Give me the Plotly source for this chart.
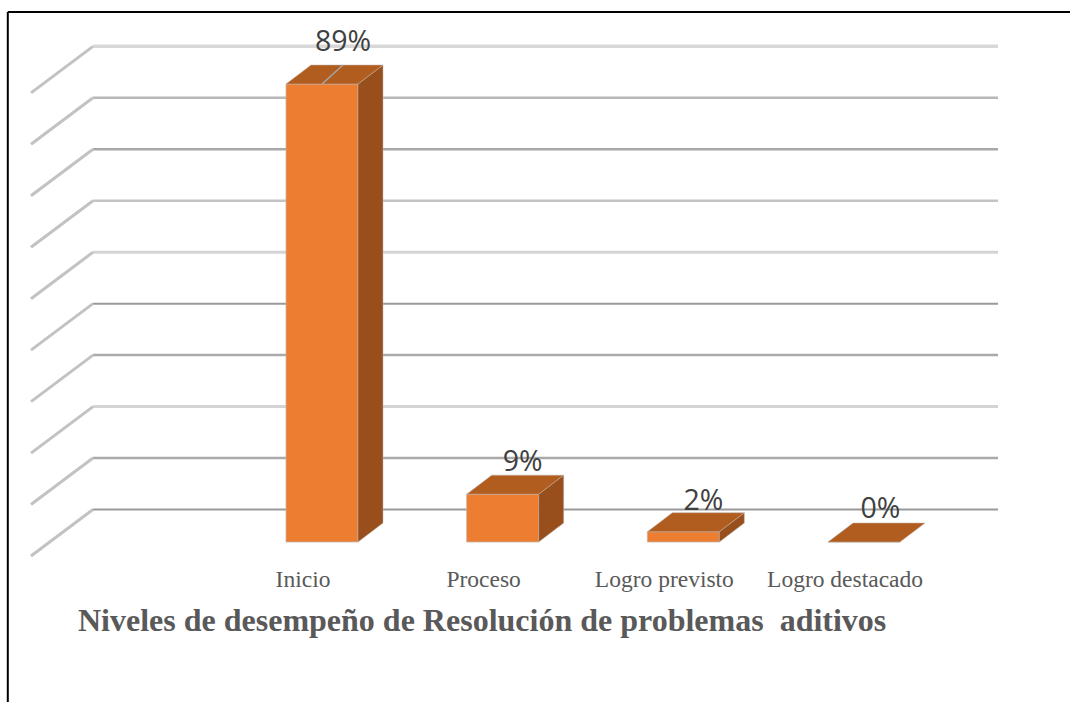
import plotly.graph_objects as go

categories = ["Inicio", "Proceso", "Logro previsto", "Logro destacado"]
values = [89, 9.3, 2, 0]
value_labels = ["89%", "9%", "2%", "0%"]
grid_levels = [0, 10, 20, 30, 40, 50, 60, 70, 80, 90]
grid_colors = ["#999999", "#aaaaaa", "#d4d4d4", "#aaaaaa", "#9a9a9a",
               "#d4d4d4", "#c4c4c4", "#a8a8a8", "#b8b8b8", "#d8d8d8"]
grid_widths = [2, 2.5, 3, 2.5, 2, 3, 2.5, 2.5, 2.5, 3.5]
title = "Niveles de desempeño de Resolución de problemas  aditivos"

W, H = 1070, 702
PX_X = 180.67      # pixels per category
PX_Y = 5.146       # pixels per percent
X0, Y0 = 322, 542  # pixel position of the first bar / zero line


def ux(px):
    return px / PX_X


def uy(px):
    return px / PX_Y


bar_w = 72 / PX_X
dx, dy = ux(25), uy(19)
wall_y = uy(32.5)
front_y = uy(-14)
wall_x = (93 - X0) / PX_X
front_x = (31 - X0) / PX_X
right_x = (998 - X0) / PX_X

ORANGE, TOP, SIDE = "#ed7d31", "#b25d20", "#984f1c"
EDGE = "#bdb5ac"

fig = go.Figure()

# back wall and floor lines, one per axis level
shapes = []
for lvl, col, wid in zip(grid_levels, grid_colors, grid_widths):
    base = lvl + wall_y
    shapes.append(dict(type="line", layer="below", xref="x", yref="y",
                       x0=wall_x, x1=right_x, y0=base, y1=base,
                       line=dict(color=col, width=wid)))
    shapes.append(dict(type="line", layer="below", xref="x", yref="y",
                       x0=front_x, x1=wall_x, y0=lvl + front_y, y1=base,
                       line=dict(color="#c2c2c2", width=3)))

# frame
shapes.append(dict(type="line", xref="paper", yref="paper",
                   x0=7.8 / W, x1=1, y0=1 - 12 / H, y1=1 - 12 / H,
                   line=dict(color="black", width=2)))
shapes.append(dict(type="line", xref="paper", yref="paper",
                   x0=7.8 / W, x1=7.8 / W, y0=0, y1=1 - 12 / H,
                   line=dict(color="black", width=2)))

# front faces
fig.add_trace(go.Bar(x=list(range(len(values))), y=values, width=bar_w,
                     marker=dict(color=ORANGE, line=dict(color=EDGE, width=0.75)),
                     hoverinfo="skip"))

# side and top faces
for i, v in enumerate(values):
    xl, xr = i - bar_w / 2, i + bar_w / 2
    if v > 0:
        fig.add_trace(go.Scatter(x=[xr, xr + dx, xr + dx, xr, xr],
                                 y=[0, dy, v + dy, v, 0],
                                 mode="lines", fill="toself", fillcolor=SIDE,
                                 line=dict(color=EDGE, width=0.5), hoverinfo="skip"))
    fig.add_trace(go.Scatter(x=[xl, xl + dx, xr + dx, xr, xl],
                             y=[v, v + dy, v + dy, v, v],
                             mode="lines", fill="toself", fillcolor=TOP,
                             line=dict(color=EDGE, width=0.5), hoverinfo="skip"))

# leader line of the first label
fig.add_trace(go.Scatter(x=[0, ux(21)], y=[values[0], values[0] + uy(19)],
                         mode="lines", line=dict(color="#a6a6a6", width=1.5),
                         hoverinfo="skip"))

# value labels
lift = [uy(40), uy(30), uy(29), uy(31)]
shift = [ux(21), ux(20), ux(20), ux(16.5)]
fig.add_trace(go.Scatter(x=[i + s for i, s in zip(range(len(values)), shift)],
                         y=[v + l for v, l in zip(values, lift)],
                         mode="text", text=value_labels,
                         textposition="middle center",
                         textfont=dict(family="Open Sans", size=28.5, color="#404040"),
                         hoverinfo="skip"))

fig.update_layout(
    width=W, height=H, autosize=False, showlegend=False,
    margin=dict(l=0, r=0, t=0, b=0),
    paper_bgcolor="white", plot_bgcolor="white",
    shapes=shapes,
    title=dict(text=title, x=78 / W, xanchor="left", xref="paper",
               y=1 - 620 / H, yanchor="middle", yref="paper",
               font=dict(family="Liberation Serif", size=32, color="#595959", weight="bold")),
    xaxis=dict(range=[-X0 / PX_X, (W - X0) / PX_X], showgrid=False, zeroline=False,
               showline=False, ticks="", tickmode="array",
               tickvals=[i - ux(19) for i in range(len(categories))],
               ticktext=categories,
               anchor="free", position=1 - 562.5 / H,
               tickfont=dict(family="Liberation Serif", size=23.5, color="#595959")),
    yaxis=dict(range=[(Y0 - H) / PX_Y, Y0 / PX_Y], showgrid=False, zeroline=False,
               showline=False, showticklabels=False, ticks=""),
)

fig.write_html("out.html", config={"displayModeBar": False},
               post_script="document.body.style.margin='0';")
